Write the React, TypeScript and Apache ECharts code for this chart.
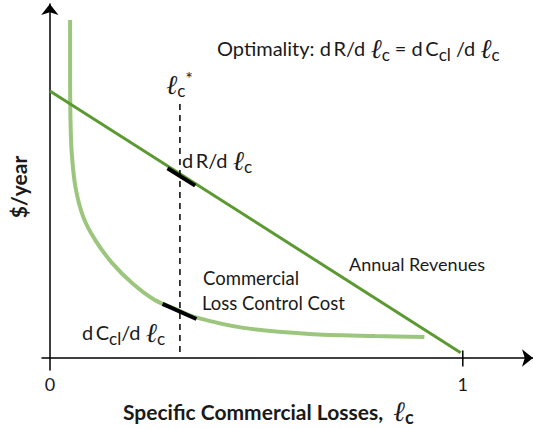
import React, { useEffect, useRef } from 'react';
import * as echarts from 'echarts';

// ---- data (x: specific commercial losses, y: $/year, arbitrary units) ----
const xTickValues = [0, 1];
const revenueX = [0, 0.995];
const revenueY = [0.754, 0.015];
const costX = [0.049, 0.049, 0.05, 0.053, 0.062, 0.081, 0.11, 0.151, 0.199, 0.254, 0.309, 0.349, 0.469, 0.629, 0.787, 0.907];
const costY = [0.955, 0.814, 0.673, 0.579, 0.483, 0.398, 0.333, 0.268, 0.212, 0.164, 0.136, 0.116, 0.085, 0.068, 0.062, 0.059];
const optimumX = 0.315;
const optimumLineY = [0.017, 0.726];
const revTangentX = [0.285, 0.352];
const revTangentY = [0.536, 0.487];
const costTangentX = [0.273, 0.355];
const costTangentY = [0.153, 0.11];
const tickOneY = [-0.024, 0.021];

const SANS = 'Lato, "Noto Sans", sans-serif';
const SCRIPT = '"DejaVu Serif", serif';
const INK = '#1a1a1a';
const DARK_GREEN = '#5b9a31';
const LIGHT_GREEN = '#9cc67e';
const TS = '\u2009';

const zip = (xs: number[], ys: number[]) => xs.map((x, i) => [x, ys[i]]);

const baseRich = (size: number, weight: string = 'normal') => ({
  t: { fontFamily: SANS, fontSize: size, fontWeight: weight, fill: INK, lineHeight: 30, verticalAlign: 'middle' },
  l: { fontFamily: SCRIPT, fontStyle: 'italic', fontSize: size + 7, fill: INK, lineHeight: 30, verticalAlign: 'middle' },
  c: { fontFamily: SANS, fontSize: size - 3, fontWeight: weight, fill: INK, lineHeight: 16, verticalAlign: 'bottom' },
  s: { fontFamily: SANS, fontSize: size - 2, fill: INK, lineHeight: 20, verticalAlign: 'top' },
});

const txt = (x: number, y: number, text: string, size: number, weight: string = 'normal') => ({
  type: 'text',
  x,
  y,
  style: {
    text,
    align: 'left',
    verticalAlign: 'middle',
    fontFamily: SANS,
    fontSize: size,
    fontWeight: weight,
    fill: INK,
    rich: baseRich(size, weight),
  },
});

export default function App() {
  const ref = useRef<HTMLDivElement>(null);
  useEffect(() => {
    if (!ref.current) return;
    const chart = echarts.init(ref.current, null, { renderer: 'svg' });
    const blackLine = (data: number[][], width: number, type: any = 'solid') => ({
      type: 'line',
      data,
      showSymbol: false,
      silent: true,
      z: 5,
      lineStyle: { color: '#000', width, type },
    });
    chart.setOption({
      animation: false,
      backgroundColor: '#fff',
      grid: { left: 36, right: 0, top: 4, bottom: 59 },
      xAxis: {
        type: 'value',
        min: -0.019,
        max: 1.17,
        axisLine: {
          onZero: true,
          symbol: ['none', 'arrow'],
          symbolSize: [13, 11],
          lineStyle: { color: '#000', width: 1.5 },
        },
        axisTick: { show: false },
        splitLine: { show: false },
        axisLabel: {
          customValues: xTickValues,
          margin: 5,
          fontFamily: SANS,
          fontSize: 18,
          color: INK,
        },
      },
      yAxis: {
        type: 'value',
        min: -0.034,
        max: 1.0,
        name: '$/year',
        nameLocation: 'middle',
        nameRotate: 90,
        nameGap: 13,
        nameTextStyle: { fontFamily: SANS, fontSize: 21, fontWeight: 'bold', color: INK },
        axisLine: {
          onZero: true,
          symbol: ['none', 'arrow'],
          symbolSize: [13, 11],
          lineStyle: { color: '#000', width: 1.5 },
        },
        axisTick: { show: false },
        axisLabel: { show: false },
        splitLine: { show: false },
      },
      series: [
        {
          type: 'line',
          name: 'Commercial Loss Control Cost',
          data: zip(costX, costY),
          smooth: 0.3,
          showSymbol: false,
          z: 2,
          lineStyle: { color: LIGHT_GREEN, width: 4 },
        },
        {
          type: 'line',
          name: 'Annual Revenues',
          data: zip(revenueX, revenueY),
          showSymbol: false,
          z: 3,
          lineStyle: { color: DARK_GREEN, width: 3 },
        },
        blackLine(zip([optimumX, optimumX], optimumLineY), 1.5, [6, 5]),
        blackLine(zip(revTangentX, revTangentY), 4),
        blackLine(zip(costTangentX, costTangentY), 4),
        blackLine(zip([1, 1], tickOneY), 1.5),
      ],
      graphic: [
        txt(217, 48, `{t|Optimality: d${TS}R/d }{l|ℓ}{c|c}{t| = d${TS}C}{c|cl}{t| /d }{l|ℓ}{c|c}`, 20),
        txt(166, 84, '{l|ℓ}{c|c}{s|*}', 20),
        txt(182, 160, `{t|d${TS}R/d }{l|ℓ}{c|c}`, 20),
        txt(349, 264, 'Annual Revenues', 18),
        txt(203, 278, 'Commercial', 18.5),
        txt(202, 303, 'Loss Control Cost', 18.5),
        txt(82, 332, `{t|d${TS}C}{c|cl}{t|/d }{l|ℓ}{c|c}`, 20),
        txt(123, 411, '{t|Specific Commercial Losses,  }{l|ℓ}{c|c}', 21, 'bold'),
      ],
    });
    return () => chart.dispose();
  }, []);
  return (
    <div
      ref={ref}
      style={{ position: 'absolute', left: 0, top: 0, width: 533, height: 429 }}
    />
  );
}
